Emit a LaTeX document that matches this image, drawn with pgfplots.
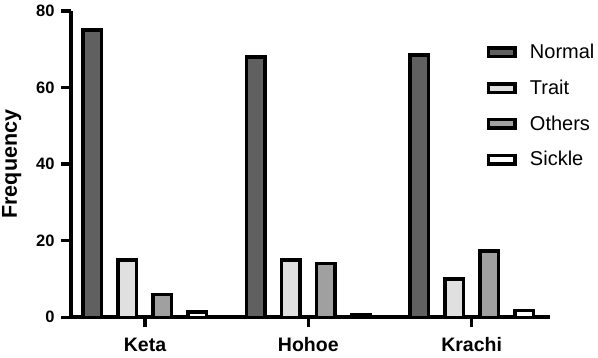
\documentclass[border=0pt]{standalone}
\usepackage{fontspec}
\setmainfont{Liberation Sans}
\usepackage{pgfplots}
\pgfplotsset{compat=1.18}
\definecolor{cNormal}{HTML}{606060}
\definecolor{cTrait}{HTML}{E0E0E0}
\definecolor{cOthers}{HTML}{A0A0A0}
\begin{document}
\begin{tikzpicture}[x=1pt,y=1pt]
\begin{axis}[
  at={(71pt,40.7pt)}, anchor=south west,
  scale only axis, width=479pt, height=306.3pt,
  xmin=-0.453, xmax=2.48, ymin=0, ymax=80,
  axis x line=bottom, axis y line=left,
  axis line style={line width=4pt, -, black},
  ytick={0,20,40,60,80},
  xtick={0,1,2}, xticklabels={Keta,Hohoe,Krachi},
  tick align=outside, major tick length=10pt,
  tick style={line width=3.5pt, black},
  /pgf/number format/assume math mode=true,
  yticklabel style={font=\bfseries\fontsize{16.5}{16.5}\selectfont, xshift=-3pt},
  xticklabel style={font=\bfseries\fontsize{19.5}{19.5}\selectfont, yshift=-7pt},
  ylabel={Frequency},
  ylabel style={font=\bfseries\fontsize{21.5}{21.5}\selectfont, yshift=8pt},
  ybar=16.5pt, bar width=18.5pt,
  every axis plot/.append style={line width=3.5pt, draw=black},
  legend image code/.code={\draw[#1] (0pt,-4.65pt) rectangle (26.5pt,3.85pt);},
  legend cell align=left,
  legend style={draw=none, fill=none, inner sep=0pt, row sep=19.8pt,
    font=\fontsize{20}{20}\selectfont,
    nodes={inner sep=0pt},
    at={(axis description cs:0.868,0.893)}, anchor=north west,
    /tikz/every odd column/.append style={column sep=13pt}},
]
\addplot[fill=cNormal] coordinates {(0,75) (1,68) (2,68.5)};
\addplot[fill=cTrait] coordinates {(0,15) (1,15) (2,10)};
\addplot[fill=cOthers] coordinates {(0,6) (1,14) (2,17.3)};
\addplot[fill=white] coordinates {(0,1.4) (1,0.7) (2,1.8)};
\legend{Normal,Trait,Others,Sickle}
\end{axis}
\pgfresetboundingbox
\useasboundingbox (0,0) rectangle (598,358);
\end{tikzpicture}
\end{document}
